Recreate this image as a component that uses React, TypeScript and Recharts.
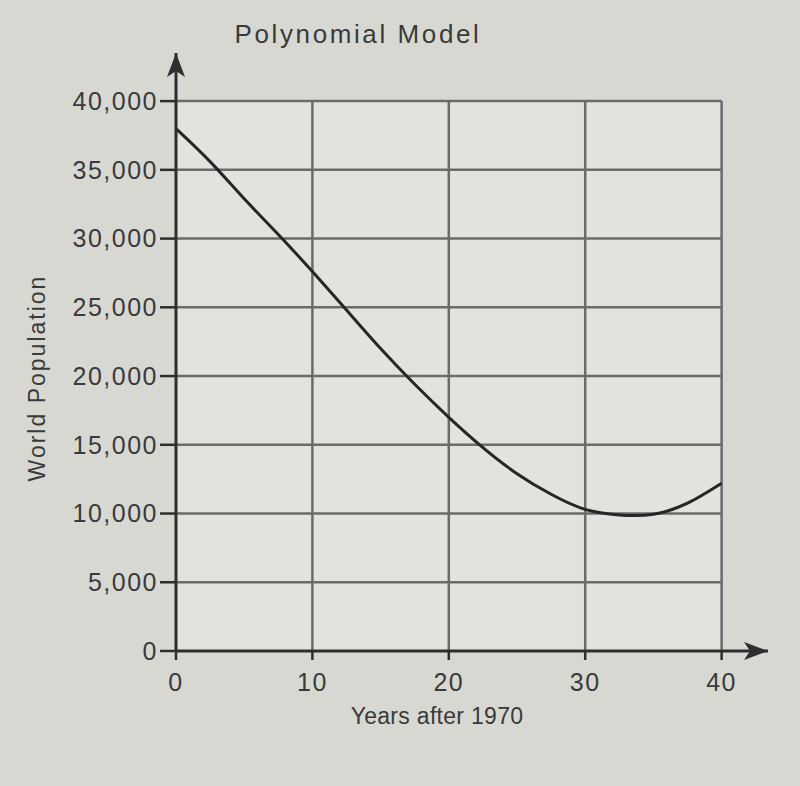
import React from "react";
import {LineChart, Line, XAxis, YAxis, ReferenceLine, ReferenceDot, ReferenceArea} from "recharts";

// years after 1970 and the modelled population
const years = [0, 2.5, 5, 7.5, 10, 12.5, 15, 17.5, 20, 22.5, 25, 27.5, 30, 32.5, 35, 37.5, 40];
const population = [38000, 35600, 32900, 30300, 27600, 24800, 22000, 19400, 17000, 14800, 12900, 11400, 10300, 9900, 9950, 10750, 12200];

const xTicks = [0, 10, 20, 30, 40];
const yTicks = [0, 5000, 10000, 15000, 20000, 25000, 30000, 35000, 40000];

const X_MAX = 43.4;
const Y_MAX = 43500;

const chartData = years.map((year, i) => ({year, population: population[i]}));

const FONT = '"Liberation Sans", Arial, Helvetica, sans-serif';
const TEXT = "#3a3a3a";
const GRID = "#6b6b6b";
const AXIS = "#2e2e2e";

const UpArrow = ({cx, cy}: any) => (
    <path d={`M${cx},${cy} L${cx + 9},${cy + 24} L${cx},${cy + 18} L${cx - 9},${cy + 24} Z`} fill={AXIS} />
);

const RightArrow = ({cx, cy}: any) => (
    <path d={`M${cx},${cy} L${cx - 24},${cy - 9} L${cx - 18},${cy} L${cx - 24},${cy + 9} Z`} fill={AXIS} />
);

const tickStyle = {fontSize: 25, fill: TEXT, fontFamily: FONT, letterSpacing: 1.5};

const App: React.FC = () => {
    return (
        <div style={{position: "absolute", left: 0, top: 0, width: 800, height: 786, background: "#d8d8d3", overflow: "hidden"}}>
            <div style={{position: "absolute", left: 358, top: 34, transform: "translate(-50%, -50%)", fontFamily: FONT, fontSize: 26, letterSpacing: 2.6, color: TEXT, whiteSpace: "nowrap"}}>
                Polynomial Model
            </div>
            <div style={{position: "absolute", left: 437, top: 716, transform: "translate(-50%, -50%)", fontFamily: FONT, fontSize: 23, letterSpacing: 0.3, color: TEXT, whiteSpace: "nowrap"}}>
                Years after 1970
            </div>
            <div style={{position: "absolute", left: 37, top: 378, transform: "translate(-50%, -50%) rotate(-90deg)", fontFamily: FONT, fontSize: 23, letterSpacing: 2, color: TEXT, whiteSpace: "nowrap"}}>
                World Population
            </div>
            <LineChart
                width={800}
                height={786}
                data={chartData}
                margin={{top: 53, right: 32, bottom: 75, left: 0}}
                style={{position: "absolute", left: 0, top: 0}}
            >
                <XAxis
                    dataKey="year"
                    type="number"
                    domain={[0, X_MAX]}
                    ticks={xTicks}
                    height={60}
                    tickSize={9}
                    tickMargin={13}
                    axisLine={{stroke: AXIS, strokeWidth: 3}}
                    tickLine={{stroke: AXIS, strokeWidth: 2.5}}
                    tick={tickStyle}
                    interval={0}
                />
                <YAxis
                    type="number"
                    domain={[0, Y_MAX]}
                    ticks={yTicks}
                    width={176}
                    tickSize={16}
                    tickMargin={2}
                    axisLine={{stroke: AXIS, strokeWidth: 3}}
                    tickLine={{stroke: AXIS, strokeWidth: 2.5}}
                    tick={tickStyle}
                    tickFormatter={(v: number) => v.toLocaleString("en-US")}
                    interval={0}
                    allowDataOverflow
                />
                <ReferenceArea x1={0} x2={40} y1={0} y2={40000} fill="#e2e2de" fillOpacity={1} stroke="none" />
                {yTicks.filter((t) => t > 0).map((t) => (
                    <ReferenceLine
                        key={`h-${t}`}
                        segment={[{x: 0, y: t}, {x: 40, y: t}]}
                        stroke={GRID}
                        strokeWidth={2.5}
                    />
                ))}
                {xTicks.filter((t) => t > 0).map((t) => (
                    <ReferenceLine
                        key={`v-${t}`}
                        segment={[{x: t, y: 0}, {x: t, y: 40000}]}
                        stroke={GRID}
                        strokeWidth={2.5}
                    />
                ))}
                <Line
                    type="natural"
                    dataKey="population"
                    stroke="#262626"
                    strokeWidth={3}
                    dot={false}
                    isAnimationActive={false}
                />
                <ReferenceDot x={0} y={Y_MAX} r={0} ifOverflow="visible" shape={UpArrow} />
                <ReferenceDot x={X_MAX} y={0} r={0} ifOverflow="visible" shape={RightArrow} />
            </LineChart>
        </div>
    );
};

export default App;
